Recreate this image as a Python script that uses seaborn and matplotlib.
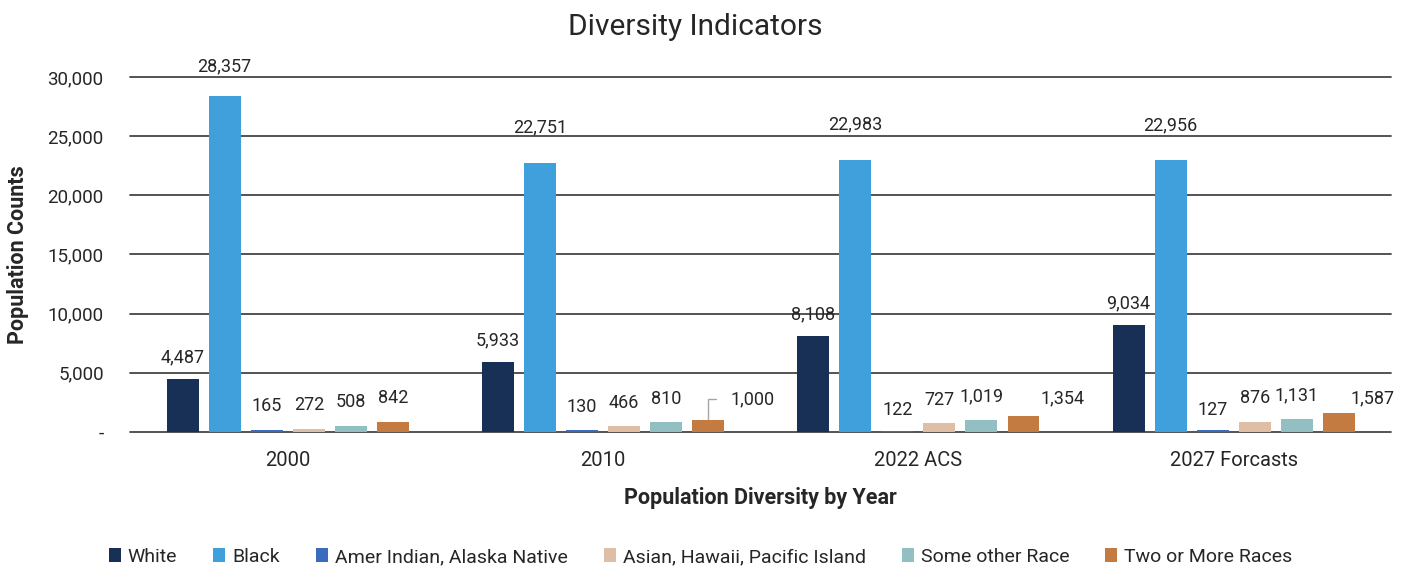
import matplotlib
matplotlib.use("Agg")
import matplotlib.pyplot as plt
from matplotlib.patches import Patch
import seaborn as sns
import pandas as pd

# Data
periods = ["2000", "2010", "2022 ACS", "2027 Forcasts"]
races = ["White", "Black", "Amer Indian, Alaska Native",
         "Asian, Hawaii, Pacific Island", "Some other Race", "Two or More Races"]
white = [4487, 5933, 8108, 9034]
black = [28357, 22751, 22983, 22956]
amer_indian = [165, 130, 122, 127]
asian = [272, 466, 727, 876]
other_race = [508, 810, 1019, 1131]
two_or_more = [842, 1000, 1354, 1587]

series = [white, black, amer_indian, asian, other_race, two_or_more]
colors = ["#182f56", "#3fa0db", "#3a6bbf", "#dfbea6", "#92bfc1", "#c47b41"]

df = pd.DataFrame(
    [(p, r, vals[i]) for r, vals in zip(races, series) for i, p in enumerate(periods)],
    columns=["period", "race", "count"],
)

sns.set_theme(style="white")
plt.rcParams["font.family"] = ["Roboto", "DejaVu Sans"]
text_color = "#262626"
grid_color = "#454545"

fig = plt.figure(figsize=(14.14, 5.69), dpi=100)
ax = fig.add_axes([0.092, 0.2408, 0.892, 0.6239])

sns.barplot(data=df, x="period", y="count", hue="race", order=periods,
            hue_order=races, palette=colors, saturation=1, errorbar=None,
            width=0.8, gap=0.24, legend=False, ax=ax, zorder=3,
            linewidth=0, edgecolor="none")

ax.set_ylim(0, 30000)
ticks = list(range(0, 30001, 5000))
ax.set_yticks(ticks)
ax.set_yticklabels(["-" if t == 0 else f"{t:,}" for t in ticks])
ax.yaxis.grid(True, color=grid_color, linewidth=1.3, zorder=1)
ax.xaxis.grid(False)
ax.set_axisbelow(True)
for gl in ax.get_ygridlines():
    gl.set_clip_on(False)
for s in ax.spines.values():
    s.set_visible(False)
ax.tick_params(axis="y", length=0, pad=19, labelsize=13.5, labelcolor=text_color)
ax.tick_params(axis="x", length=0, pad=14, labelsize=14.5, labelcolor=text_color)

ax.set_xlabel("Population Diversity by Year", fontsize=15.5, fontweight="bold",
              color=text_color, labelpad=12)
ax.set_ylabel("Population Counts", fontsize=15.5, fontweight="bold",
              color=text_color)
ax.yaxis.set_label_coords(-0.0805, 0.5)

# Value labels above each bar (offsets in points)
series_offset = {"White": (0, 9), "Black": (0, 19)}
label_offset = {
    ("2000", "Black"): (0, 15),
    ("2010", "Two or More Races"): None,          # drawn with a leader line
    ("2022 ACS", "Two or More Races"): (28, 6),
    ("2027 Forcasts", "Two or More Races"): (24, 4),
    ("2022 ACS", "Amer Indian, Alaska Native"): (0, 8.5),
    ("2027 Forcasts", "Amer Indian, Alaska Native"): (0, 8.5),
}
for race, container in zip(races, ax.containers):
    for period, bar in zip(periods, container):
        val = bar.get_height()
        x = bar.get_x() + bar.get_width() / 2
        key = (period, race)
        if key in label_offset and label_offset[key] is None:
            ax.annotate(f"{int(val):,}", xy=(x, val), xytext=(16, 15),
                        textcoords="offset points", ha="left", va="center",
                        fontsize=13, color=text_color,
                        arrowprops=dict(arrowstyle="-", color="#a6a6a6", lw=1,
                                        shrinkA=8, shrinkB=1,
                                        connectionstyle="angle,angleA=0,angleB=90,rad=0"))
            continue
        dx, dy = label_offset.get(key, series_offset.get(race, (0, 10.5)))
        ax.annotate(f"{int(val):,}", xy=(x, val), xytext=(dx, dy),
                    textcoords="offset points", ha="center", va="bottom",
                    fontsize=13, color=text_color)

fig.text(0.492, 1 - 27 / 569, "Diversity Indicators", ha="center", va="center",
         fontsize=21.5, color=text_color)

handles = [Patch(facecolor=c, edgecolor="none", label=r) for r, c in zip(races, colors)]
fig.legend(handles=handles, loc="center", bbox_to_anchor=(0.4955, 1 - 557 / 569),
           ncol=6, frameon=False, fontsize=14, handlelength=0.62, handleheight=0.7,
           handletextpad=0.36, columnspacing=1.85, labelcolor=text_color)

fig.savefig("out.png", dpi=100, facecolor="white")
